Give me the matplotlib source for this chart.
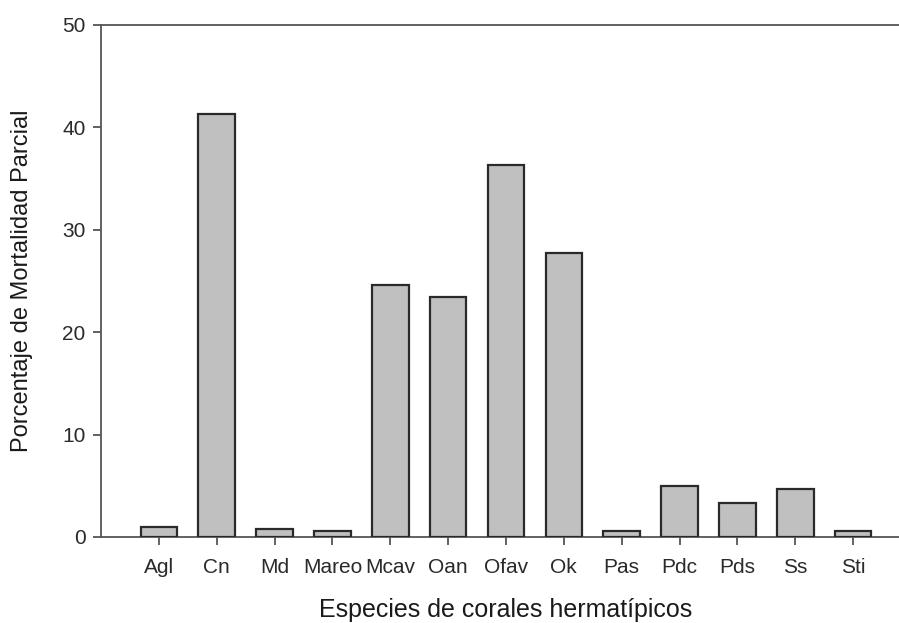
import matplotlib
matplotlib.use("Agg")
import matplotlib.pyplot as plt

species = ["Agl", "Cn", "Md", "Mareo", "Mcav", "Oan", "Ofav", "Ok",
           "Pas", "Pdc", "Pds", "Ss", "Sti"]
mortality = [0.95, 41.3, 0.8, 0.55, 24.6, 23.4, 36.3, 27.7,
             0.55, 5.0, 3.35, 4.65, 0.55]
yticks = [0, 10, 20, 30, 40, 50]

plt.rcParams['font.family'] = ['Liberation Sans', 'DejaVu Sans']

W, H = 899, 623
fig = plt.figure(figsize=(W / 100, H / 100), dpi=100)
left, right, top, bottom = 101, 911, 25, 537
ax = fig.add_axes([left / W, (H - bottom) / H, (right - left) / W, (bottom - top) / H])

x = list(range(len(species)))
ax.bar(x, mortality, width=0.63, color="#c0c0c0", edgecolor="#2a2a2a", linewidth=1.6, zorder=3)

ax.set_xlim(-1, len(species))
ax.set_ylim(0, 50)
ax.set_xticks(x)
ax.set_xticklabels(species)
ax.set_yticks(yticks)

ax.spines['right'].set_visible(False)
for s in ['left', 'bottom', 'top']:
    ax.spines[s].set_color("#555555")
    ax.spines[s].set_linewidth(1.3)

ax.tick_params(axis='both', direction='out', length=6, width=1.3, color="#555555",
               labelsize=15, labelcolor="#2a2a2a")
ax.tick_params(axis='x', pad=9)
ax.tick_params(axis='y', pad=5)

ax.set_xlabel("Especies de corales hermatípicos", fontsize=18, color="#1a1a1a", labelpad=15)
ax.set_ylabel("Porcentaje de Mortalidad Parcial", fontsize=17, color="#1a1a1a", labelpad=21)

fig.savefig("out.png", dpi=100)
